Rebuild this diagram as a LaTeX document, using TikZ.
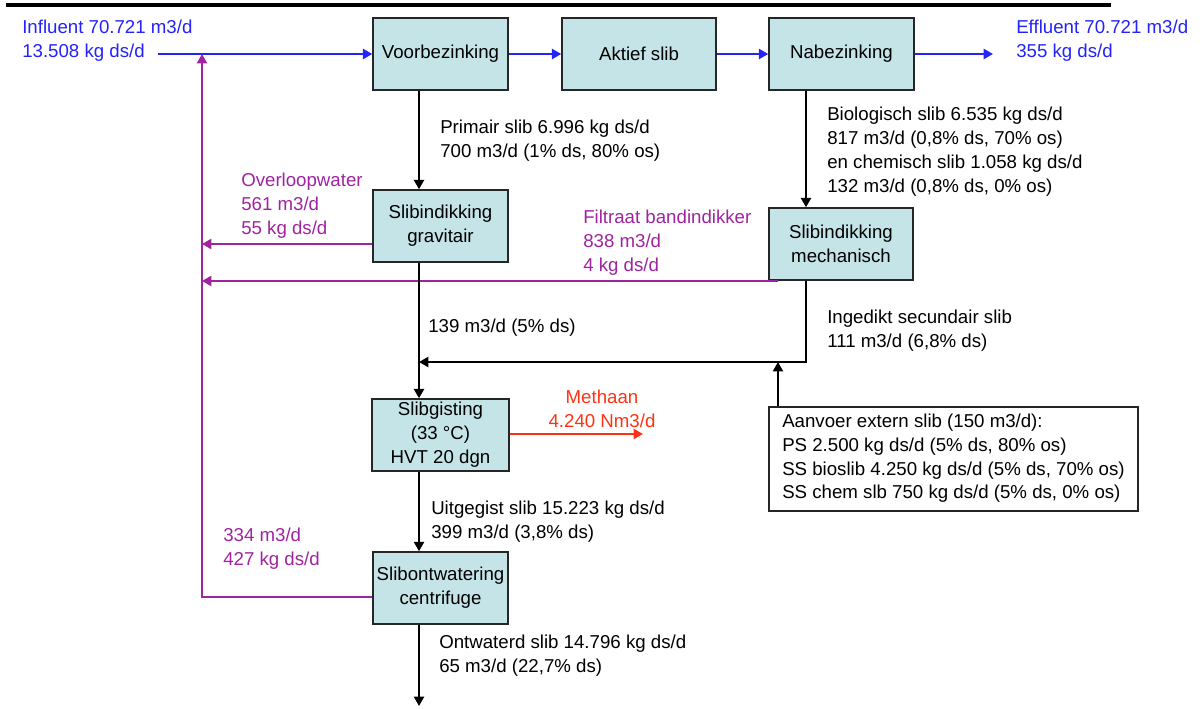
\documentclass[tikz,border=0pt]{standalone}
\usepackage{fontspec}
\setmainfont{Liberation Sans}
\usetikzlibrary{arrows.meta}

\definecolor{flowblue}{RGB}{35,35,250}
\definecolor{flowpurple}{RGB}{160,35,160}
\definecolor{gasred}{RGB}{255,50,20}
\definecolor{unitfill}{RGB}{197,228,232}

\newcommand\mlines[1]{\begin{tabular}[t]{@{}l@{}}#1\end{tabular}}
\newcommand\mlinesc[1]{\begin{tabular}[t]{@{}c@{}}#1\end{tabular}}

\begin{document}
\begin{tikzpicture}[x=0.75pt, y=-0.75pt,
  every node/.style={font=\fontsize{14}{18}\selectfont},
  unit/.style={draw=black!85, line width=1.1pt, fill=unitfill, align=center,
    minimum height=54pt, inner sep=0pt},
  lbl/.style={anchor=base west, inner sep=0pt},
  tip/.style={-{Triangle[length=7pt,width=7.5pt]}},
  water/.style={draw=flowblue, line width=1.8pt, tip},
  reject/.style={draw=flowpurple, line width=2.2pt},
  sludge/.style={draw=black, line width=1.9pt, tip},
  thinsludge/.style={draw=black, line width=1.5pt, tip},
  gas/.style={draw=gasred, line width=2pt, tip}]

\useasboundingbox (0,0) rectangle (1204,709);

% header rule
\coordinate (ruleL) at (6,5);
\coordinate (ruleR) at (1111,5);
\draw[line width=2.4pt] (ruleL) -- (ruleR);

% treatment units
\node[unit, minimum width=101.25pt] (vb)   at (440.5,54)  {Voorbezinking};
\node[unit, minimum width=115.5pt]  (as)   at (639,54)    {Aktief slib};
\node[unit, minimum width=108.75pt] (nb)   at (841.5,54)  {Nabezinking};
\node[unit, minimum width=101.25pt] (sg)   at (440.5,226) {Slibindikking\\gravitair};
\node[unit, minimum width=108pt]    (sm)   at (841,244)   {Slibindikking\\mechanisch};
\node[unit, minimum width=102.75pt] (gist) at (440.5,435) {Slibgisting\\(33 °C)\\HVT 20 dgn};
\node[unit, minimum width=101.25pt] (ontw) at (440.5,588) {Slibontwatering\\centrifuge};
\node[draw=black!85, line width=1.1pt, minimum width=276.75pt, minimum height=78pt,
  inner sep=0pt] (aanvoer) at (953.5,459) {};

% guide columns and rows for the connectors
\coordinate (colL)   at (419,0);
\coordinate (colR)   at (806,0);
\coordinate (colExt) at (778,0);
\coordinate (colRet) at (202,0);
\coordinate (inflow) at (158,54);
\coordinate (outflow) at (993,54);
\coordinate (mixRow) at (0,362);
\coordinate (ovRow)  at (0,244);
\coordinate (filRow) at (0,281);
\coordinate (cenRow) at (0,597);
\coordinate (gasEnd) at (643,434);
\coordinate (cake)   at (419,706);

% water line
\draw[water] (inflow) -- (vb.west);
\draw[water] (vb.east) -- (as.west);
\draw[water] (as.east) -- (nb.west);
\draw[water] (nb.east) -- (outflow);

% return flows
\draw[reject, tip] (sg.west |- ovRow) -- (colRet |- ovRow);
\draw[reject, tip] (colExt |- filRow) -- (colRet |- filRow);
\draw[reject, tip] (ontw.west |- cenRow) -- (colRet |- cenRow) -- (colRet |- inflow);

% sludge line
\draw[sludge] (vb.south -| colL) -- (sg.north -| colL);
\draw[sludge] (sg.south -| colL) -- (gist.north -| colL);
\draw[sludge] (nb.south -| colR) -- (sm.north -| colR);
\draw[sludge] (sm.south -| colR) -- (colR |- mixRow) -- (colL |- mixRow);
\draw[thinsludge] (aanvoer.north -| colExt) -- (colExt |- mixRow);
\draw[thinsludge] (gist.south -| colL) -- (ontw.north -| colL);
\draw[thinsludge] (ontw.south -| colL) -- (cake);
\draw[gas] (gist.east |- gasEnd) -- (gasEnd);

% flow labels
\node[lbl, text=flowblue] (tIn) at (22,34) {\mlines{Influent 70.721 m3/d\\13.508 kg ds/d}};
\node[lbl, text=flowblue] (tOut) at (1016,34) {\mlines{Effluent 70.721 m3/d\\355 kg ds/d}};
\node[lbl] (tPrim) at (440,134) {\mlines{Primair slib 6.996 kg ds/d\\700 m3/d (1\% ds, 80\% os)}};
\node[lbl] (tBio) at (827,121) {\mlines{Biologisch slib 6.535 kg ds/d\\817 m3/d (0,8\% ds, 70\% os)\\en chemisch slib 1.058 kg ds/d\\132 m3/d (0,8\% ds, 0\% os)}};
\node[lbl, text=flowpurple] (tOv) at (241,187) {\mlines{Overloopwater\\561 m3/d\\55 kg ds/d}};
\node[lbl, text=flowpurple] (tFil) at (583,224) {\mlines{Filtraat bandindikker\\838 m3/d\\4 kg ds/d}};
\node[lbl] (tGrav) at (428,333) {139 m3/d (5\% ds)};
\node[lbl] (tSec) at (827,324) {\mlines{Ingedikt secundair slib\\111 m3/d (6,8\% ds)}};
\node[anchor=base, inner sep=0pt, text=gasred] (tGas) at (602,404) {\mlinesc{Methaan\\4.240 Nm3/d}};
\node[lbl] (tDig) at (431,514) {\mlines{Uitgegist slib 15.223 kg ds/d\\399 m3/d (3,8\% ds)}};
\node[lbl, text=flowpurple] (tCen) at (223,541) {\mlines{334 m3/d\\427 kg ds/d}};
\node[lbl] (tCake) at (439,648) {\mlines{Ontwaterd slib 14.796 kg ds/d\\65 m3/d (22,7\% ds)}};
\node[lbl] (tExt) at (782,427) {\mlines{Aanvoer extern slib (150 m3/d):\\PS 2.500 kg ds/d (5\% ds, 80\% os)\\SS bioslib 4.250 kg ds/d (5\% ds, 70\% os)\\SS chem slb 750 kg ds/d (5\% ds, 0\% os)}};

\end{tikzpicture}
\end{document}
